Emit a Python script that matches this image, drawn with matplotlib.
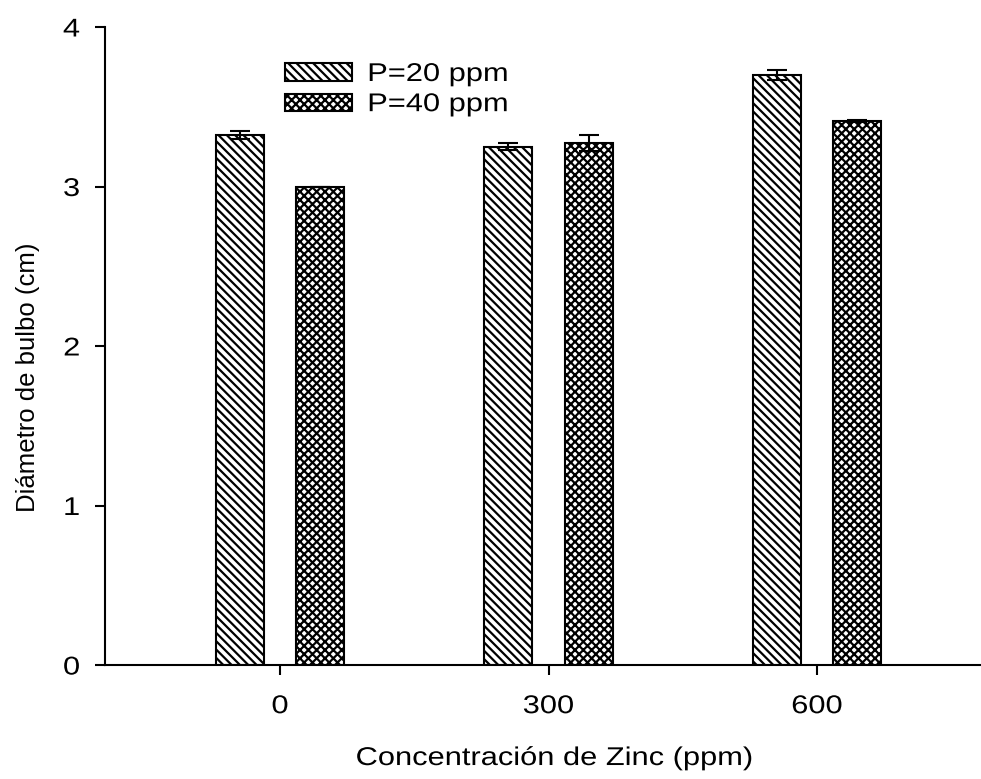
import matplotlib
matplotlib.use('Agg')
import matplotlib.pyplot as plt
import numpy as np
from matplotlib.patheffects import AbstractPathEffect
from matplotlib.transforms import Affine2D

# datos
zinc = ['0', '300', '600']
p20 = [3.32, 3.25, 3.70]
p20_err = [0.025, 0.02, 0.03]
p40 = [3.00, 3.27, 3.41]
p40_err = [0.0, 0.05, 0.008]

plt.rcParams['font.family'] = ['Liberation Sans', 'DejaVu Sans']
plt.rcParams['hatch.linewidth'] = 1.6
FS = 18.5
SX = 1.2   # el texto del original esta algo mas ancho


class StretchX(AbstractPathEffect):
    # estira el texto en horizontal alrededor de un punto de anclaje
    def __init__(self, sx, anchor='center'):
        super().__init__()
        self.sx = sx
        self.anchor = anchor

    def draw_path(self, renderer, gc, tpath, affine, rgbFace=None):
        ext = tpath.get_extents()
        if not np.isfinite(ext.x0):
            cx = 0
        elif self.anchor == 'center':
            cx = (ext.x0 + ext.x1) / 2
        elif self.anchor == 'right':
            cx = ext.x1
        else:
            cx = 0
        t = Affine2D().translate(-cx, 0).scale(self.sx, 1).translate(cx, 0)
        renderer.draw_path(gc, tpath, t + affine, rgbFace)


fig = plt.figure(figsize=(9.81, 7.79), dpi=100)
ax = fig.add_axes([105/981, 1-665/779, (980-105)/981, (665-27)/779])

x = np.arange(len(zinc))
w = 0.18
ekw = dict(ecolor='black', elinewidth=1.5, capsize=7, capthick=1.5)
ax.bar(x - 0.15, p20, w, yerr=p20_err, color='white', edgecolor='black',
       hatch='\\\\\\\\', linewidth=1.5, label='P=20 ppm', error_kw=ekw)
ax.bar(x + 0.15, p40, w, yerr=p40_err, color='white', edgecolor='black',
       hatch='xxxx', linewidth=1.5, label='P=40 ppm', error_kw=ekw)

ax.set_xlim(-0.652, 2.607)
ax.set_ylim(0, 4)
ax.set_yticks([0, 1, 2, 3, 4])
ax.set_xticks(x)
ax.set_xticklabels(zinc)

for s in ['top', 'right']:
    ax.spines[s].set_visible(False)
for s in ['left', 'bottom']:
    ax.spines[s].set_linewidth(1.5)

ax.tick_params(axis='y', direction='out', length=7, width=1.5, pad=11, labelsize=FS)
ax.tick_params(axis='x', direction='out', length=7, width=1.5, pad=14, labelsize=FS)

ax.set_xlabel('Concentración de Zinc (ppm)', fontsize=FS)
ax.set_ylabel('Diámetro de bulbo (cm)', fontsize=FS)
ax.xaxis.set_label_coords(0.514, -0.127)
ax.yaxis.set_label_coords(-0.0743, 0.451)

ax.xaxis.label.set_path_effects([StretchX(SX, 'center')])
for t in ax.get_xticklabels():
    t.set_path_effects([StretchX(SX, 'center')])
for t in ax.get_yticklabels():
    t.set_path_effects([StretchX(SX, 'right')])

leg = ax.legend(loc='upper left', bbox_to_anchor=(285/981, 1-62/779),
                bbox_transform=fig.transFigure, frameon=False, borderpad=0,
                borderaxespad=0, handlelength=2.6, handleheight=0.65,
                handletextpad=0.6, labelspacing=0.24, fontsize=FS)
for t in leg.get_texts():
    t.set_path_effects([StretchX(SX, 'left')])

fig.savefig('out.png', dpi=100)
